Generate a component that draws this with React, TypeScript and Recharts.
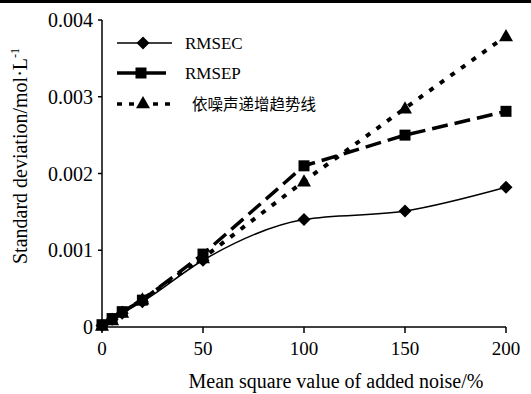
import React from "react";
import { LineChart, Line, XAxis, YAxis } from "recharts";

const noiseLevels = [0, 5, 10, 20, 50, 100, 150, 200];
const rmsec = [0.00002, 0.0001, 0.00018, 0.00033, 0.00087, 0.0014, 0.00151, 0.00182];
const rmsep = [0.00003, 0.00011, 0.0002, 0.00035, 0.00095, 0.0021, 0.0025, 0.00281];
const trend = [0.00002, 0.00009, 0.00019, 0.00036, 0.0009, 0.0019, 0.00285, 0.00379];
const xTicks = [0, 50, 100, 150, 200];
const yTicks = [0, 0.001, 0.002, 0.003, 0.004];
const seriesNames = ["RMSEC", "RMSEP", "依噪声递增趋势线"];

const data = noiseLevels.map((x, i) => ({ x, rmsec: rmsec[i], rmsep: rmsep[i], trend: trend[i] }));

const FONT = "'Liberation Serif', 'Times New Roman', serif";

const Diamond = (props: any) => {
  const { cx, cy } = props;
  if (cx == null || cy == null) return null;
  const r = 6.5;
  return <path d={`M${cx},${cy - r}L${cx + r},${cy}L${cx},${cy + r}L${cx - r},${cy}Z`} fill="#000" />;
};
const Square = (props: any) => {
  const { cx, cy } = props;
  if (cx == null || cy == null) return null;
  const r = 5.5;
  return <rect x={cx - r} y={cy - r} width={2 * r} height={2 * r} fill="#000" />;
};
const Triangle = (props: any) => {
  const { cx, cy } = props;
  if (cx == null || cy == null) return null;
  const r = 7;
  return <path d={`M${cx},${cy - r}L${cx + r},${cy + r * 0.75}L${cx - r},${cy + r * 0.75}Z`} fill="#000" />;
};

const LegendBox = () => (
  <svg width={240} height={95} style={{ position: "absolute", left: 110, top: 30, overflow: "visible" }}>
    <g>
      <line x1={7} y1={13} x2={62} y2={13} stroke="#000" strokeWidth={1.5} />
      <Diamond cx={33} cy={13} />
      <text x={75} y={19} fontFamily={FONT} fontSize={17} fill="#000">{seriesNames[0]}</text>
    </g>
    <g>
      <line x1={7} y1={43} x2={56} y2={43} stroke="#000" strokeWidth={3.5} />
      <Square cx={31} cy={43} />
      <text x={75} y={49} fontFamily={FONT} fontSize={17} fill="#000">{seriesNames[1]}</text>
    </g>
    <g>
      <line x1={7} y1={74} x2={60} y2={74} stroke="#000" strokeWidth={3.5} strokeDasharray="5 7" />
      <Triangle cx={33} cy={73} />
      <text x={82} y={80} fontFamily="'Noto Sans CJK SC', sans-serif" fontSize={15.5} fill="#000">{seriesNames[2]}</text>
    </g>
  </svg>
);

const YLabel = () => {
  const cx = 27;
  const cy = 156;
  return (
    <text
      x={cx}
      y={cy}
      transform={`rotate(-90, ${cx}, ${cy})`}
      textAnchor="middle"
      fontFamily={FONT}
      fontSize={20}
      fill="#000"
    >
      Standard deviation/mol·L
      <tspan dy={-8} fontSize={12}>-1</tspan>
    </text>
  );
};

const XLabel = () => (
  <text x={336} y={388} textAnchor="middle" fontFamily={FONT} fontSize={20} fill="#000">
    Mean square value of added noise/%
  </text>
);

export default function App() {
  return (
    <div style={{ position: "absolute", left: 0, top: 0, width: 531, height: 394, background: "#fff" }}>
      <div style={{ position: "absolute", left: 0, top: 0, width: 531, height: 3, background: "#000" }} />
      <LineChart
        width={531}
        height={394}
        data={data}
        margin={{ top: 20, right: 25, left: 0, bottom: 0 }}
      >
        <XAxis
          dataKey="x"
          type="number"
          domain={[0, 200]}
          ticks={xTicks}
          height={67}
          axisLine={{ stroke: "#000", strokeWidth: 1.5 }}
          tickLine={{ stroke: "#000", strokeWidth: 1.5 }}
          tickSize={6}
          tick={{ fill: "#000", fontFamily: FONT, fontSize: 19 }}
          tickMargin={9}
          label={<XLabel />}
        />
        <YAxis
          type="number"
          domain={[0, 0.004]}
          ticks={yTicks}
          width={102}
          axisLine={{ stroke: "#000", strokeWidth: 1.5 }}
          tickLine={{ stroke: "#000", strokeWidth: 1.5 }}
          tickSize={4}
          tickMargin={5}
          tick={{ fill: "#000", fontFamily: FONT, fontSize: 20 }}
          tickFormatter={(v: number) => (v === 0 ? "0" : v.toFixed(3))}
          label={<YLabel />}
        />
        <Line
          type="monotone"
          dataKey="rmsec"
          name={seriesNames[0]}
          stroke="#000"
          strokeWidth={1.5}
          dot={<Diamond />}
          isAnimationActive={false}
        />
        <Line
          type="linear"
          dataKey="rmsep"
          name={seriesNames[1]}
          stroke="#000"
          strokeWidth={3.5}
          strokeDasharray="16 7"
          dot={<Square />}
          isAnimationActive={false}
        />
        <Line
          type="linear"
          dataKey="trend"
          name={seriesNames[2]}
          stroke="#000"
          strokeWidth={4}
          strokeDasharray="5 8"
          dot={<Triangle />}
          isAnimationActive={false}
        />
      </LineChart>
      <LegendBox />
    </div>
  );
}
